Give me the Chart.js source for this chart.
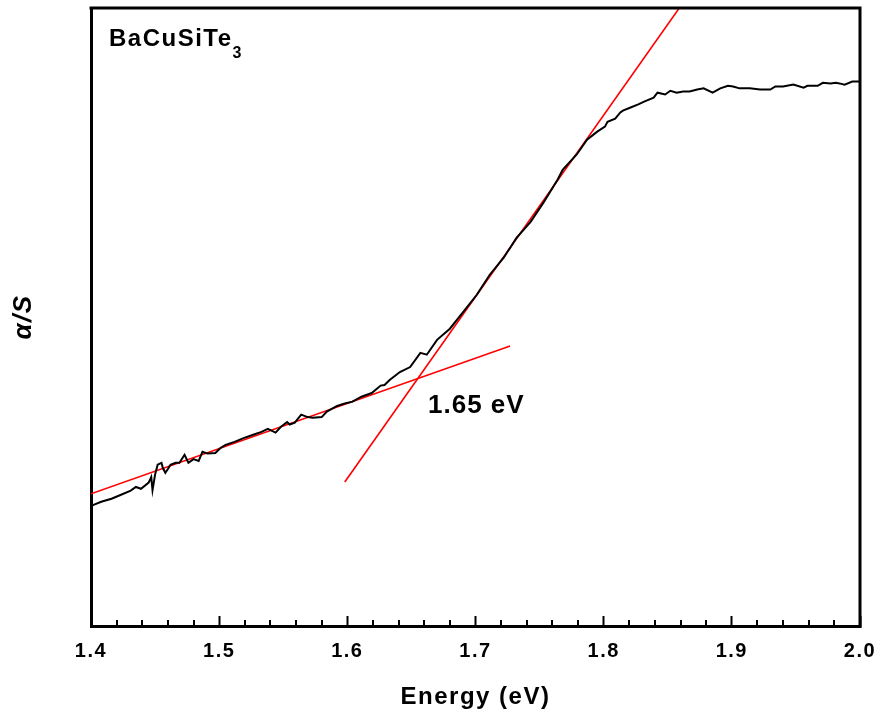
<!DOCTYPE html>
<html>
<head>
<meta charset="utf-8">
<title>BaCuSiTe3 absorption edge</title>
<script src="https://cdn.jsdelivr.net/npm/chart.js@4.4.1/dist/chart.umd.min.js"></script>
<style>
  html, body { margin: 0; padding: 0; background: #fff; }
  #wrap { width: 878px; height: 714px; }
</style>
</head>
<body>
<div id="wrap"><canvas id="edge"></canvas></div>
<script>
// Kubelka-Munk spectrum (alpha/S, arbitrary units) against photon energy
const energy = [
  1.400, 1.402, 1.408, 1.416, 1.423, 1.431, 1.435, 1.439, 1.445, 1.447,
  1.448, 1.450, 1.452, 1.455, 1.456, 1.458, 1.460, 1.462, 1.466, 1.469,
  1.473, 1.476, 1.480, 1.484, 1.487, 1.491, 1.497, 1.501, 1.505, 1.512,
  1.519, 1.526, 1.533, 1.538, 1.544, 1.548, 1.553, 1.555, 1.559, 1.564,
  1.569, 1.573, 1.580, 1.584, 1.592, 1.598, 1.604, 1.611, 1.619, 1.626,
  1.629, 1.633, 1.641, 1.649, 1.657, 1.662, 1.670, 1.680, 1.690, 1.701,
  1.711, 1.722, 1.732, 1.743, 1.753, 1.764, 1.768, 1.779, 1.787, 1.795,
  1.801, 1.803, 1.809, 1.813, 1.815, 1.821, 1.827, 1.832, 1.839, 1.842,
  1.848, 1.852, 1.857, 1.862, 1.867, 1.873, 1.878, 1.885, 1.891, 1.897,
  1.901, 1.906, 1.914, 1.922, 1.930, 1.934, 1.940, 1.948, 1.956, 1.959,
  1.967, 1.971, 1.977, 1.981, 1.984, 1.988, 1.994, 2.000
];
const absorb = [
  19.4, 19.6, 20.1, 20.6, 21.2, 21.9, 22.5, 22.2, 23.2, 24.1,
  22.0, 24.5, 26.1, 26.4, 25.6, 24.8, 25.4, 26.1, 26.4, 26.4,
  27.7, 26.4, 27.0, 26.7, 28.2, 27.9, 28.0, 28.8, 29.3, 29.8,
  30.4, 30.9, 31.4, 31.9, 31.3, 32.2, 33.0, 32.6, 32.9, 34.2,
  33.8, 33.7, 33.8, 34.7, 35.6, 36.0, 36.3, 37.1, 37.7, 38.9,
  39.0, 39.8, 41.1, 41.9, 44.2, 43.9, 46.3, 48.1, 50.7, 53.6,
  56.8, 59.6, 62.8, 65.4, 68.5, 72.2, 73.8, 76.3, 78.7, 80.0,
  80.8, 81.6, 82.1, 83.1, 83.4, 83.9, 84.4, 84.9, 85.5, 86.3,
  86.0, 86.6, 86.3, 86.5, 86.5, 86.8, 87.0, 86.3, 87.0, 87.4,
  87.3, 87.0, 87.0, 86.8, 86.8, 87.3, 87.3, 87.6, 87.1, 87.4,
  87.4, 87.9, 87.8, 87.9, 87.8, 87.6, 88.1, 88.1
];

// linear fits: sub-gap tail and absorption edge
const tailFit = [{ x: 1.400, y: 21.4 }, { x: 1.727, y: 45.3 }];
const edgeFit = [{ x: 1.598, y: 23.3 }, { x: 1.859, y: 100 }];

const energyTicks = [1.4, 1.5, 1.6, 1.7, 1.8, 1.9, 2.0];
const sampleName = 'BaCuSiTe';
const sampleSub = '3';

const FONT = '"Liberation Sans", Arial, sans-serif';

// band gap = crossing point of the two fitted lines
function crossing(a, b) {
  const m1 = (a[1].y - a[0].y) / (a[1].x - a[0].x);
  const m2 = (b[1].y - b[0].y) / (b[1].x - b[0].x);
  const c1 = a[0].y - m1 * a[0].x;
  const c2 = b[0].y - m2 * b[0].x;
  const x = (c2 - c1) / (m1 - m2);
  return { x, y: m1 * x + c1 };
}
const gap = crossing(tailFit, edgeFit);

const decorations = {
  id: 'decorations',
  beforeDraw(chart) {
    chart.ctx.letterSpacing = '1.5px';
  },
  afterDraw(chart) {
    const { ctx, chartArea: a, scales: { x, y } } = chart;
    ctx.save();

    // top and right frame edges
    ctx.strokeStyle = '#000';
    ctx.lineWidth = 3;
    ctx.beginPath();
    ctx.moveTo(a.left - 1.5, a.top);
    ctx.lineTo(a.right, a.top);
    ctx.lineTo(a.right, a.bottom + 1.5);
    ctx.stroke();

    // minor ticks, four between each labelled tick
    ctx.lineWidth = 2;
    ctx.beginPath();
    for (let i = 0; i < energyTicks.length - 1; i++) {
      const step = (energyTicks[i + 1] - energyTicks[i]) / 5;
      for (let k = 1; k < 5; k++) {
        const px = Math.round(x.getPixelForValue(energyTicks[i] + k * step));
        ctx.moveTo(px, a.bottom);
        ctx.lineTo(px, a.bottom - 6);
      }
    }
    ctx.stroke();

    ctx.fillStyle = '#000';
    ctx.textBaseline = 'alphabetic';
    ctx.textAlign = 'left';

    // sample label with subscript
    ctx.letterSpacing = '1.5px';
    ctx.font = 'bold 24px ' + FONT;
    const lx = a.left + 18, ly = a.top + 38;
    ctx.fillText(sampleName, lx, ly);
    const w = ctx.measureText(sampleName).width;
    ctx.font = 'bold 16px ' + FONT;
    ctx.fillText(sampleSub, lx + w, ly + 12);

    // band gap value next to the crossing
    ctx.letterSpacing = '1px';
    ctx.font = 'bold 26px ' + FONT;
    ctx.fillText(gap.x.toFixed(2) + ' eV', x.getPixelForValue(gap.x + 0.008), y.getPixelForValue(gap.y - 5.6));

    ctx.restore();
  }
};

new Chart(document.getElementById('edge'), {
  type: 'line',
  data: {
    datasets: [
      {
        data: energy.map((e, i) => ({ x: e, y: absorb[i] })),
        borderColor: '#000',
        borderWidth: 2,
        pointRadius: 0,
        tension: 0
      },
      {
        data: tailFit,
        borderColor: '#ff0000',
        borderWidth: 1.6,
        pointRadius: 0
      },
      {
        data: edgeFit,
        borderColor: '#ff0000',
        borderWidth: 1.6,
        pointRadius: 0
      }
    ]
  },
  options: {
    responsive: true,
    maintainAspectRatio: false,
    animation: false,
    layout: { padding: { top: 8, right: 18, left: 0, bottom: 0 } },
    plugins: {
      legend: { display: false },
      tooltip: { enabled: false }
    },
    scales: {
      x: {
        type: 'linear',
        min: 1.4,
        max: 2.0,
        afterBuildTicks: s => { s.ticks = energyTicks.map(v => ({ value: v })); },
        afterFit: s => { s.height = 88; s.paddingLeft = 0; s.paddingRight = 0; },
        grid: {
          drawOnChartArea: false,
          drawTicks: true,
          tickLength: -10,
          tickWidth: 2,
          tickColor: '#000'
        },
        border: { display: true, color: '#000', width: 3 },
        ticks: {
          padding: 23,
          color: '#000',
          maxRotation: 0,
          font: { family: FONT, size: 20, weight: 'bold' },
          callback: v => Number(v).toFixed(1)
        },
        title: {
          display: true,
          text: 'Energy (eV)',
          color: '#000',
          font: { family: FONT, size: 24, weight: 'bold' },
          padding: { top: 0, bottom: 2 }
        }
      },
      y: {
        min: 0,
        max: 100,
        afterFit: s => { s.width = 91; s.paddingTop = 0; s.paddingBottom = 0; },
        grid: { display: false },
        border: { display: true, color: '#000', width: 3 },
        ticks: { display: false },
        title: {
          display: true,
          text: 'α/S',
          color: '#000',
          font: { family: FONT, size: 26, weight: 'bold', style: 'italic' },
          padding: { top: 8, bottom: 0 }
        }
      }
    }
  },
  plugins: [decorations]
});
</script>
</body>
</html>
